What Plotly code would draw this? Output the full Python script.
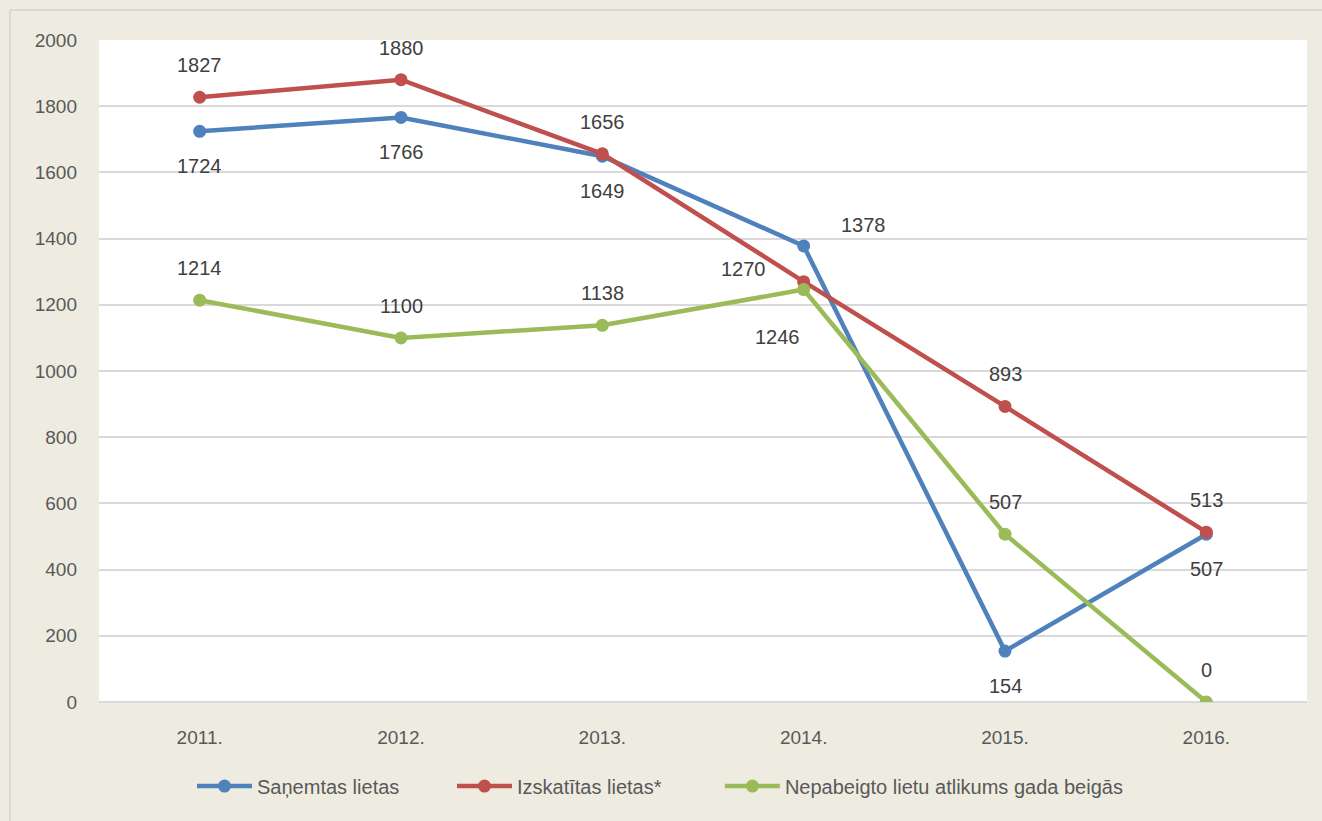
import plotly.graph_objects as go

years = ["2011.", "2012.", "2013.", "2014.", "2015.", "2016."]
received = [1724, 1766, 1649, 1378, 154, 507]
examined = [1827, 1880, 1656, 1270, 893, 513]
remaining = [1214, 1100, 1138, 1246, 507, 0]

names = ["Saņemtas lietas", "Izskatītas lietas*", "Nepabeigto lietu atlikums gada beigās"]
colors = ["#4F81BD", "#C0504D", "#9BBB59"]
series = [received, examined, remaining]
legend_ids = ["legend", "legend2", "legend3"]
legend_x = [0.077, 0.2922, 0.514]

# label offsets (xshift, yshift) in pixels
offsets = [
    [(0, -35), (0, -35), (0, -35), (60, 21), (0, -35), (0, -35)],
    [(0, 32), (0, 32), (0, 32), (-60, 13), (0, 32), (0, 32)],
    [(0, 32), (0, 32), (0, 32), (-26, -47), (0, 32), (0, 32)],
]

FONT = "Liberation Sans"
TXT = "#595959"

fig = go.Figure()
for name, col, vals, lid in zip(names, colors, series, legend_ids):
    fig.add_trace(go.Scatter(
        x=years, y=vals, name=name, mode="lines+markers",
        line=dict(color=col, width=4.5),
        marker=dict(color=col, size=13),
        legend=lid,
    ))

annotations = []
for vals, offs in zip(series, offsets):
    for i, (v, (dx, dy)) in enumerate(zip(vals, offs)):
        annotations.append(dict(
            x=i, y=v, xref="x", yref="y", text=str(v), showarrow=False,
            xshift=dx, yshift=dy,
            font=dict(family=FONT, size=20, color="#404040"),
        ))

legend_style = dict(orientation="h", xanchor="left", y=-0.127, yanchor="middle",
                    font=dict(family=FONT, size=20, color=TXT), itemwidth=55,
                    bgcolor="rgba(0,0,0,0)")

fig.update_layout(
    width=1322, height=821,
    paper_bgcolor="#EEECE1",
    plot_bgcolor="#FFFFFF",
    margin=dict(l=99, r=15, t=40, b=119),
    font=dict(family=FONT, size=19, color=TXT),
    showlegend=True,
    legend=dict(x=legend_x[0], **legend_style),
    legend2=dict(x=legend_x[1], **legend_style),
    legend3=dict(x=legend_x[2], **legend_style),
    annotations=annotations,
    shapes=[
        dict(type="line", xref="paper", yref="paper", x0=-0.0737, x1=-0.0737,
             y0=-0.1798, y1=1.0453, line=dict(color="#D9D9D9", width=2)),
        dict(type="line", xref="paper", yref="paper", x0=-0.0737, x1=1.0124,
             y0=1.0453, y1=1.0453, line=dict(color="#D9D9D9", width=2)),
    ],
)
fig.update_xaxes(type="category", range=[-0.5, 5.5], showgrid=False,
                 showline=False, ticks="", tickfont=dict(size=19, color=TXT),
                 ticklabelstandoff=22)
fig.update_yaxes(range=[0, 2000], dtick=200, showgrid=True, gridcolor="#D9D9D9",
                 gridwidth=1.5, zeroline=True, zerolinecolor="#D9D9D9", zerolinewidth=1.5,
                 ticks="", tickfont=dict(size=19, color=TXT), ticklabelstandoff=21)

fig.write_html("out.html", config={"displayModeBar": False},
               post_script="document.body.style.margin='0';document.body.style.background='#EEECE1';")
